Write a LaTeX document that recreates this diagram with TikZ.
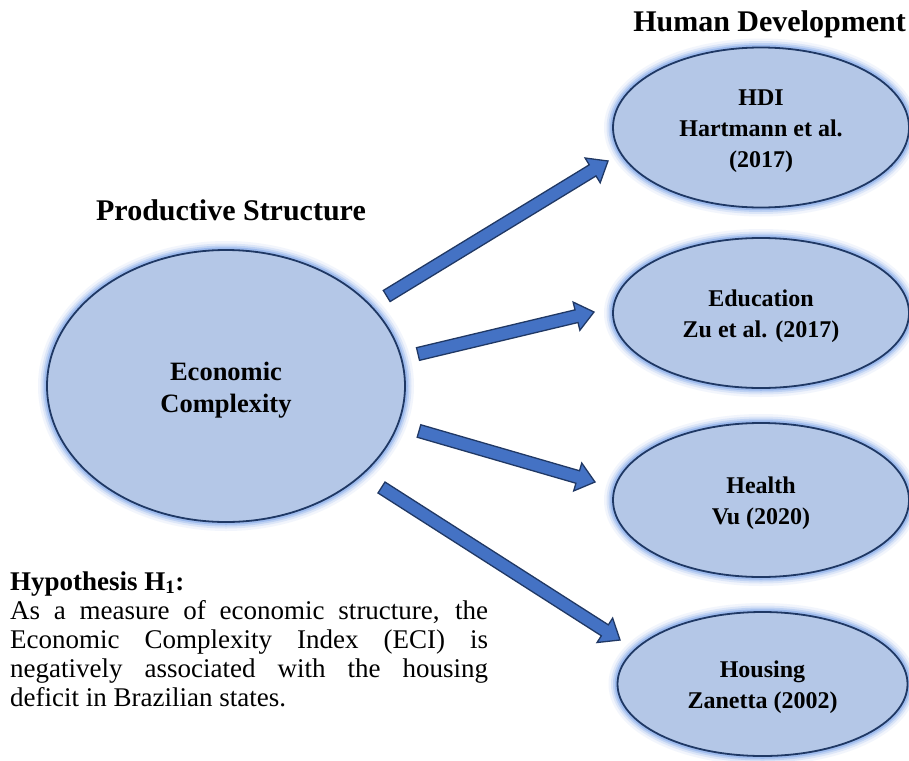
\documentclass[tikz,border=0pt]{standalone}
\usepackage{fontspec}
\setmainfont{Liberation Serif}
\usetikzlibrary{shapes.geometric,calc}

\definecolor{bubblefill}{RGB}{180,199,231}
\definecolor{bubbleline}{RGB}{31,56,100}
\definecolor{glowblue}{RGB}{90,140,226}
\definecolor{arrowfill}{RGB}{68,114,196}
\definecolor{arrowline}{RGB}{32,56,100}

% block arrow drawn as a polygon from the tail point #1 to the tip #2
\newcommand{\blockarrow}[2]{%
  \coordinate (#1-h) at ($(#2)!18pt!(#1)$);
  \draw[arrowbody]
    ($(#1)!6.5pt!90:(#2)$) -- ($(#1-h)!6.5pt!90:(#2)$) --
    ($(#1-h)!14.5pt!90:(#2)$) -- (#2) --
    ($(#1-h)!14.5pt!-90:(#2)$) -- ($(#1-h)!6.5pt!-90:(#2)$) --
    ($(#1)!6.5pt!-90:(#2)$) -- cycle;
}
% taller first line, so the lines sit a little lower in the bubble
\newcommand{\firstline}{\rule{0pt}{1.0em}}

\begin{document}
\begin{tikzpicture}[x=1pt,y=-1pt,
  bubble/.style={ellipse, inner sep=0pt, align=center,
    fill=bubblefill, draw=bubbleline, line width=1.8pt,
    font=\bfseries\fontsize{24}{31}\selectfont,
    preaction={draw=glowblue, line width=18pt, draw opacity=0.08},
    preaction={draw=glowblue, line width=13pt, draw opacity=0.14},
    preaction={draw=glowblue, line width=9pt, draw opacity=0.22},
    preaction={draw=glowblue, line width=5.5pt, draw opacity=0.32}},
  heading/.style={font=\bfseries\fontsize{30}{35}\selectfont, inner sep=0pt},
  arrowbody/.style={fill=arrowfill, draw=arrowline, line width=1.3pt, line join=miter}]

\useasboundingbox[fill=white] (0,0) rectangle (909,760);

% headings
\node[heading, anchor=base] (hdtitle) at (769.5,32) {Human Development};
\node[heading, anchor=base] (pstitle) at (231,220) {Productive Structure};

% productive structure
\node[bubble, minimum width=358pt, minimum height=272pt,
      font=\bfseries\fontsize{26.5}{32}\selectfont] (eci) at (226,386)
  {\firstline Economic\\Complexity};

% human development dimensions
\node[bubble, minimum width=296pt, minimum height=160pt] (hdi) at (761,127.5)
  {\firstline HDI\\Hartmann et al.\\(2017)};
\node[bubble, minimum width=296pt, minimum height=150pt] (edu) at (761,313)
  {\firstline Education\\Zu et al. (2017)};
\node[bubble, minimum width=296pt, minimum height=154pt] (health) at (761,500)
  {\firstline Health\\Vu (2020)};
\node[bubble, minimum width=290pt, minimum height=144pt] (housing) at (762.5,684)
  {\firstline Housing\\Zanetta (2002)};

% arrow tails and tips
\coordinate (ta) at (386.7,296);   \coordinate (pa) at (608,161);
\coordinate (tb) at (418,354);     \coordinate (pb) at (594,312);
\coordinate (tc) at (419,431);     \coordinate (pc) at (595,482);
\coordinate (td) at (381.5,487.5); \coordinate (pd) at (620,640);
\blockarrow{ta}{pa}
\blockarrow{tb}{pb}
\blockarrow{tc}{pc}
\blockarrow{td}{pd}

% hypothesis
\node[anchor=base west, inner sep=0pt, text width=478pt, align=justify,
      font=\fontsize{27}{29}\selectfont] (hyp) at (10,590)
  {{\bfseries Hypothesis H\textsubscript{1}:}\\
   As a measure of economic structure, the\linebreak
   Economic Complexity Index (ECI) is\linebreak
   negatively associated with the housing\linebreak
   deficit in Brazilian states.};

\end{tikzpicture}
\end{document}
